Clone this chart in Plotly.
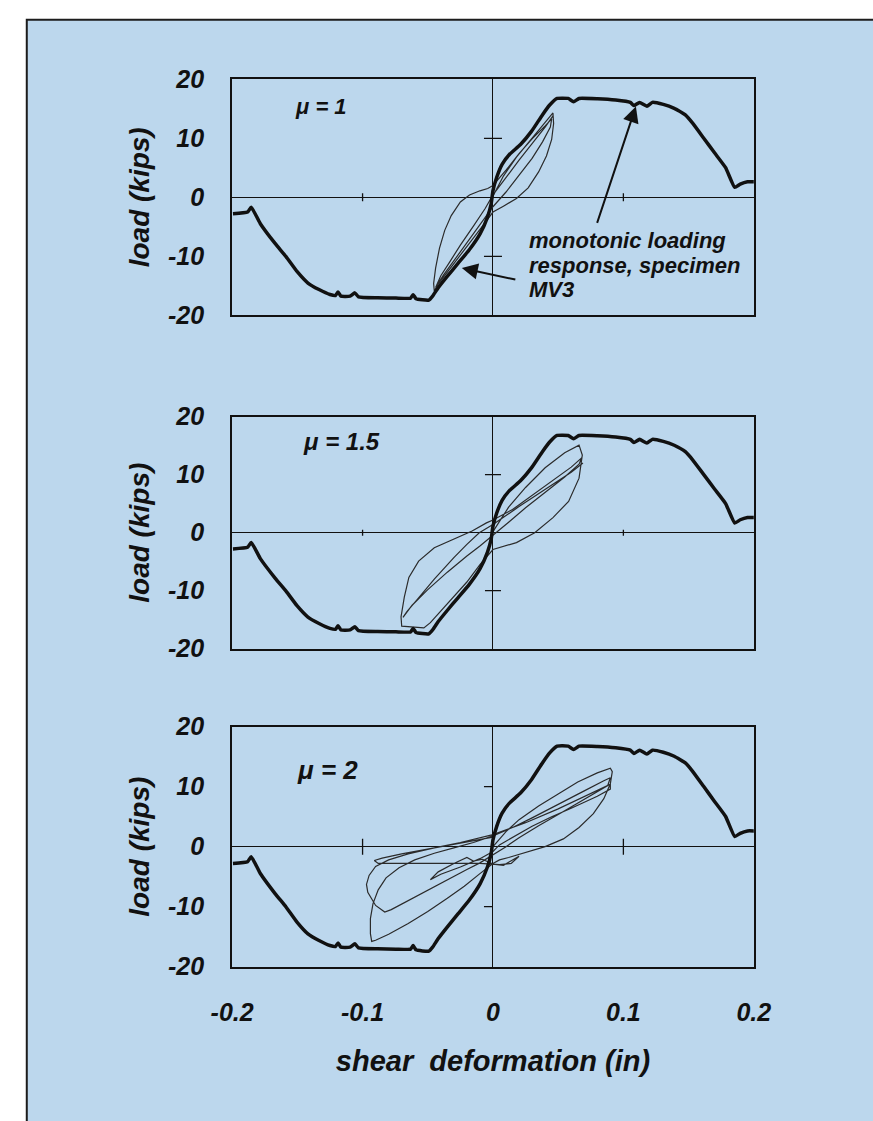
import plotly.graph_objects as go

# ---------------------------------------------------------------------------
# Monotonic loading response of specimen MV3 (reference curve in every panel)
# ---------------------------------------------------------------------------
mono_x = [-0.1994, -0.1882, -0.1854, -0.1784, -0.1671, -0.1587, -0.1503, -0.1419,
          -0.1334, -0.1250, -0.1208, -0.1188, -0.1166, -0.1096, -0.1059, -0.1031,
          -0.0885, -0.0744, -0.0632, -0.0612, -0.0590, -0.0492, -0.0463, -0.0421,
          -0.0351, -0.0267, -0.0183, -0.0098, -0.0042, -0.0014, 0.0000, 0.0028,
          0.0070, 0.0126, 0.0211, 0.0295, 0.0379, 0.0435, 0.0492, 0.0576, 0.0618,
          0.0660, 0.0801, 0.0941, 0.1053, 0.1081, 0.1124, 0.1180, 0.1222, 0.1306,
          0.1390, 0.1475, 0.1531, 0.1615, 0.1699, 0.1784, 0.1854, 0.1896, 0.1952,
          0.2003]
mono_y = [-2.79, -2.51, -1.68, -4.47, -7.82, -10.06, -12.57, -14.53,
          -15.64, -16.48, -16.65, -16.05, -16.76, -16.76, -16.20, -16.87,
          -17.04, -17.09, -17.09, -16.50, -17.21, -17.43, -16.76, -15.36,
          -13.41, -11.17, -8.94, -6.15, -3.35, -1.12, 1.12, 3.35,
          5.59, 7.26, 8.94, 11.17, 13.97, 15.64, 16.76, 16.76, 16.20,
          16.76, 16.70, 16.48, 16.09, 15.55, 16.09, 15.45, 16.09, 15.75,
          15.08, 13.97, 12.57, 10.06, 7.54, 5.03, 1.68, 2.23, 2.63,
          2.63]

# Cyclic response, displacement ductility 1
cyc1_x = [0.000, 0.008, 0.018, 0.030, 0.040, 0.046, 0.0465, 0.045, 0.041, 0.035,
          0.027, 0.018, 0.008, 0.000, -0.006, -0.014, -0.022, -0.030, -0.037,
          -0.042, -0.045, -0.0455, -0.044, -0.041, -0.037, -0.032, -0.025, -0.018,
          -0.010, -0.004, 0.000, 0.010, 0.020, 0.030, 0.040, 0.045, 0.044, 0.038,
          0.030, 0.020, 0.010, 0.000, -0.010, -0.020, -0.030, -0.038, -0.044,
          -0.040, -0.033, -0.025, -0.015, -0.006, 0.000, 0.010, 0.020, 0.030,
          0.040, 0.046]
cyc1_y = [0.2, 3.6, 6.8, 10.0, 12.8, 14.3, 12.5, 9.8, 7.0, 4.3,
          1.6, -0.2, -1.5, -2.5, -4.3, -6.6, -8.9, -11.1, -13.1,
          -14.7, -15.9, -14.6, -12.0, -8.6, -5.6, -3.1, -0.8, 0.4,
          1.1, 1.5, 2.0, 4.6, 7.4, 9.9, 12.1, 13.3, 11.9, 9.4,
          6.6, 3.7, 0.9, -1.6, -4.6, -7.7, -10.7, -13.2, -15.3,
          -13.3, -10.9, -8.1, -4.9, -1.9, 0.4, 3.4, 6.3, 9.1,
          11.9, 13.8]

# Cyclic response, displacement ductility 1.5
cyc15_x = [0.000, 0.012, 0.025, 0.040, 0.055, 0.066, 0.0685, 0.066, 0.058, 0.046,
           0.032, 0.018, 0.000, -0.010, -0.020, -0.030, -0.040, -0.048, -0.053,
           -0.060, -0.070, -0.0705, -0.068, -0.0645, -0.057, -0.045, -0.030,
           -0.016, -0.005, 0.000, 0.015, 0.030, 0.045, 0.060, 0.068, 0.066, 0.055,
           0.040, 0.025, 0.012, 0.000, -0.010, -0.020, -0.035, -0.050, -0.062,
           -0.069, -0.066, -0.058, -0.045, -0.030, -0.020, -0.0105, 0.000, 0.020,
           0.040, 0.060, 0.069]
cyc15_y = [0.2, 4.4, 7.8, 11.2, 13.8, 15.1, 13.4, 9.4, 5.4, 2.6,
           0.0, -1.7, -2.9, -5.5, -8.5, -11.0, -13.5, -15.5, -16.4,
           -16.3, -16.1, -14.5, -11.1, -7.7, -4.9, -2.6, -1.1,
           0.3, 1.7, 2.2, 4.0, 6.4, 8.9, 11.3, 12.9, 11.8, 9.6,
           7.0, 4.3, 1.8, -0.5, -2.3, -4.0, -6.8, -9.8, -12.5,
           -14.6, -13.6, -11.5, -8.0, -4.3, -2.0, 0.0, 1.4, 4.5,
           7.4, 10.4, 12.0]

# Cyclic response, displacement ductility 2
cyc2_x = [0.000, 0.010, 0.020, 0.035, 0.050, 0.065, 0.080, 0.090,
          0.0915, 0.090, 0.085, 0.077, 0.066, 0.054, 0.040, 0.025, 0.012, 0.005, 0.000,
          -0.010, -0.022, -0.035, -0.050, -0.065, -0.080, -0.090, -0.093,
          -0.094, -0.094, -0.092, -0.088, -0.082, -0.072, -0.060, -0.045, -0.030,
          -0.015, 0.000, 0.015, 0.030, 0.050, 0.070, 0.085, 0.090,
          0.088, 0.075, 0.055, 0.035, 0.020, 0.010, 0.000, -0.010, -0.020, -0.035,
          -0.050, -0.065, -0.078, -0.083, -0.090, -0.096, -0.097, -0.095, -0.090,
          -0.080, -0.065, -0.045, -0.025, 0.000, 0.025, 0.050, 0.075, 0.090,
          0.090, 0.080, 0.060, 0.045, 0.030, 0.015, 0.005, 0.000,
          -0.010, -0.025, -0.040, -0.048, -0.042, -0.030, -0.020, -0.015, -0.008,
          0.000, 0.008, 0.012, 0.020, 0.014, 0.005, -0.010, -0.030, -0.050, -0.070,
          -0.088, -0.091, -0.085, -0.070, -0.050, -0.030, -0.010, 0.000]
cyc2_y = [0.0, 2.5, 4.5, 6.8, 8.8, 10.8, 12.3, 13.1,
          12.5, 10.5, 8.0, 5.5, 3.2, 1.3, 0.0, -1.0, -1.8, -2.2, -2.8,
          -4.5, -6.6, -8.6, -10.8, -12.8, -14.6, -15.6, -15.8,
          -14.5, -12.0, -9.5, -7.2, -5.2, -3.5, -2.2, -1.1, -0.2,
          0.7, 1.8, 3.2, 4.8, 7.0, 9.3, 11.0, 11.5,
          10.2, 8.5, 6.0, 3.5, 1.5, 0.0, -1.3, -2.7, -3.8, -5.5,
          -7.2, -9.0, -10.5, -10.9, -9.8, -7.6, -6.3, -4.8, -3.3,
          -2.2, -1.2, -0.2, 0.7, 2.0, 4.0, 6.3, 8.8, 10.4,
          9.6, 8.4, 6.4, 5.0, 3.4, 1.6, 0.3, -0.8,
          -2.0, -3.4, -4.6, -5.5, -4.2, -2.8, -1.8, -2.4, -2.1,
          -2.9, -3.1, -2.6, -1.6, -2.8, -3.0, -2.8, -2.8, -2.9, -2.9,
          -2.8, -2.3, -1.9, -1.2, -0.4, 0.4, 1.1, 1.6]

ductility_labels = ["\u03bc = 1", "\u03bc = 1.5", "\u03bc = 2"]
x_ticks = [-0.2, -0.1, 0, 0.1, 0.2]
x_tick_text = ["-0.2", "-0.1", "0", "0.1", "0.2"]
y_ticks = [-20, -10, 0, 10, 20]
y_tick_text = ["-20", "-10", "0", "10", "20"]
zero_line_x_ticks = [-0.1, 0.1]
zero_line_y_ticks = [-10, 10]

note_lines = ["monotonic loading", "response, specimen", "MV3"]

# ---------------------------------------------------------------------------
W, H = 873, 1121
BLUE = "#bcd7ed"
INK = "#111111"
FONT = "Liberation Sans, Arial, sans-serif"

x_dom = [220 / W, 766 / W]
y_doms = [[1 - 309 / H, 1 - 67 / H],
          [1 - 651 / H, 1 - 413 / H],
          [1 - 977 / H, 1 - 731 / H]]

cyclic = [(cyc1_x, cyc1_y), (cyc15_x, cyc15_y), (cyc2_x, cyc2_y)]

fig = go.Figure()

for i, (cx, cy) in enumerate(cyclic, start=1):
    xa = "x" if i == 1 else f"x{i}"
    ya = "y" if i == 1 else f"y{i}"
    fig.add_trace(go.Scatter(x=cx, y=cy, mode="lines", xaxis=xa, yaxis=ya,
                             line=dict(color="#2b2b2b", width=1.2),
                             showlegend=False, hoverinfo="skip"))
    fig.add_trace(go.Scatter(x=mono_x, y=mono_y, mode="lines", xaxis=xa, yaxis=ya,
                             line=dict(color=INK, width=3.5, shape="spline",
                                       smoothing=0.4),
                             showlegend=False, hoverinfo="skip"))

tick_font = dict(family=FONT, size=25, color=INK, weight="bold", style="italic")
ytitle_font = dict(family=FONT, size=28, color=INK, weight="bold", style="italic")
xtitle_font = dict(family=FONT, size=29, color=INK, weight="bold", style="italic")

layout = dict(
    width=W, height=H,
    margin=dict(l=0, r=0, t=0, b=0),
    paper_bgcolor="white",
    plot_bgcolor="rgba(0,0,0,0)",
    showlegend=False,
)

for i in range(1, 4):
    xkey = "xaxis" if i == 1 else f"xaxis{i}"
    ykey = "yaxis" if i == 1 else f"yaxis{i}"
    ya = "y" if i == 1 else f"y{i}"
    xa = "x" if i == 1 else f"x{i}"
    layout[xkey] = dict(
        domain=x_dom, anchor=ya, range=[-0.2, 0.2],
        tickvals=x_ticks, ticktext=x_tick_text, ticks="",
        showticklabels=(i == 3), tickfont=tick_font, ticklabelstandoff=22,
        showgrid=False, zeroline=True, zerolinecolor=INK, zerolinewidth=1,
        showline=True, mirror=True, linecolor=INK, linewidth=2,
        title=dict(text="shear\u00a0 deformation (in)" if i == 3 else "",
                   font=xtitle_font, standoff=26),
    )
    layout[ykey] = dict(
        domain=y_doms[i - 1], anchor=xa, range=[-20, 20],
        tickvals=y_ticks, ticktext=y_tick_text, ticks="",
        tickfont=tick_font, ticklabelstandoff=21,
        showgrid=False, zeroline=True, zerolinecolor=INK, zerolinewidth=1,
        showline=True, mirror=True, linecolor=INK, linewidth=2,
        title=dict(text="load (kips)", font=ytitle_font, standoff=10),
    )

fig.update_layout(**layout)

# page panel with its dark frame
shapes = [dict(type="rect", xref="paper", yref="paper", layer="below",
               x0=5 / W, x1=1.05, y0=-0.05, y1=1 - 6 / H,
               fillcolor=BLUE, line=dict(color="#1c1c1c", width=2))]

# short tick marks sitting on the zero lines
x_tick_half = [4, 3, 8]
y_tick_span = [(-9, 9), (-8, 8), (-9, 0)]
for i in range(1, 4):
    xa = "x" if i == 1 else f"x{i}"
    ya = "y" if i == 1 else f"y{i}"
    for t in zero_line_x_ticks:
        shapes.append(dict(type="line", xref=xa, yref=ya, x0=t, x1=t,
                           ysizemode="pixel", yanchor=0,
                           y0=-x_tick_half[i - 1], y1=x_tick_half[i - 1],
                           line=dict(color=INK, width=1.3)))
    for t in zero_line_y_ticks:
        a, b = y_tick_span[i - 1]
        shapes.append(dict(type="line", xref=xa, yref=ya, y0=t, y1=t,
                           xsizemode="pixel", xanchor=0, x0=a, x1=b,
                           line=dict(color=INK, width=1.3)))
fig.update_layout(shapes=shapes)

annotations = []
mu_pos = [(-0.153, 15.4, 22), (-0.147, 15.7, 24), (-0.152, 12.8, 26)]
for i, (lbl, (mx, my, ms)) in enumerate(zip(ductility_labels, mu_pos), start=1):
    xa = "x" if i == 1 else f"x{i}"
    ya = "y" if i == 1 else f"y{i}"
    annotations.append(dict(text=lbl, x=mx, y=my, xref=xa, yref=ya,
                            xanchor="left", yanchor="middle", showarrow=False,
                            font=dict(family=FONT, size=ms, color=INK,
                                      weight="bold", style="italic")))

note_font = dict(family=FONT, size=22, color=INK, weight="bold", style="italic")
for line_text, ly in zip(note_lines, [-7.4, -11.5, -15.6]):
    annotations.append(dict(text=line_text, x=0.026, y=ly, xref="x", yref="y",
                            xanchor="left", yanchor="middle", showarrow=False,
                            font=note_font))

# pointers from the note to the monotonic curve
for (hx, hy, tx, ty) in [(0.1096, 15.4, 0.0795, -4.6), (-0.0239, -12.0, 0.0183, -14.0)]:
    annotations.append(dict(text="", x=hx, y=hy, ax=tx, ay=ty, xref="x", yref="y",
                            axref="x", ayref="y", showarrow=True, arrowhead=2,
                            arrowsize=1.6, arrowwidth=2, arrowcolor=INK))

fig.update_layout(annotations=annotations)

fig.write_html("out.html", post_script="document.body.style.margin='0';")
